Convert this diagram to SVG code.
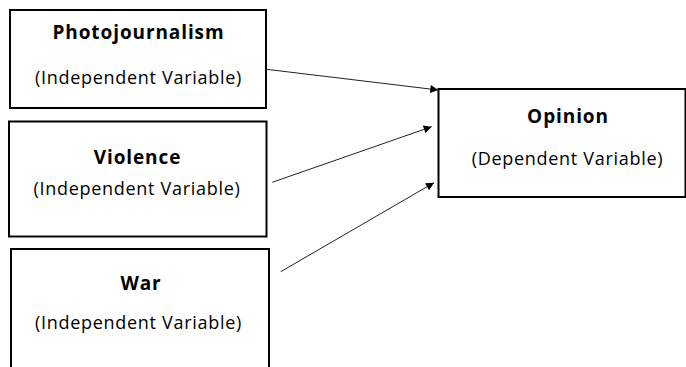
<svg xmlns="http://www.w3.org/2000/svg" width="686" height="367" viewBox="0 0 686 367">
<style>
.box{fill:#fff;stroke:#000;stroke-width:2}
.t{font-family:"Open Sans","Noto Sans",sans-serif;font-weight:bold;font-size:19px;letter-spacing:0.9px;fill:#000;text-anchor:middle}
.s{font-family:"Open Sans","Noto Sans",sans-serif;font-size:18px;letter-spacing:0.7px;fill:#000;text-anchor:middle}
.c{stroke:#222;stroke-width:1;fill:none;marker-end:url(#ah)}
</style>
<defs>
<marker id="ah" viewBox="0 0 10 10" refX="10" refY="5" markerWidth="10" markerHeight="8" markerUnits="userSpaceOnUse" orient="auto">
<path d="M0,0 L10,5 L0,10 z" fill="#000"/>
</marker>
</defs>
<rect width="686" height="367" fill="#fff"/>
<g id="photojournalism">
<rect class="box" x="10" y="10" width="256" height="98"/>
<text class="t" x="138.5" y="39">Photojournalism</text>
<text class="s" x="138.5" y="84">(Independent Variable)</text>
</g>
<g id="violence">
<rect class="box" x="9" y="121.5" width="257.5" height="115"/>
<text class="t" x="137.5" y="164">Violence</text>
<text class="s" x="137" y="195">(Independent Variable)</text>
</g>
<g id="war">
<rect class="box" x="11" y="249" width="258" height="130"/>
<text class="t" x="141" y="290">War</text>
<text class="s" x="138.5" y="329">(Independent Variable)</text>
</g>
<g id="opinion">
<rect class="box" x="438.5" y="89" width="247" height="108"/>
<text class="t" x="568" y="123">Opinion</text>
<text class="s" x="567.5" y="165">(Dependent Variable)</text>
</g>
<g id="connectors">
<line class="c" x1="266.5" y1="69.3" x2="438.3" y2="90"/>
<line class="c" x1="272.3" y1="182.3" x2="431.7" y2="126.7"/>
<line class="c" x1="280.7" y1="271.7" x2="434" y2="182.7"/>
</g>
</svg>
